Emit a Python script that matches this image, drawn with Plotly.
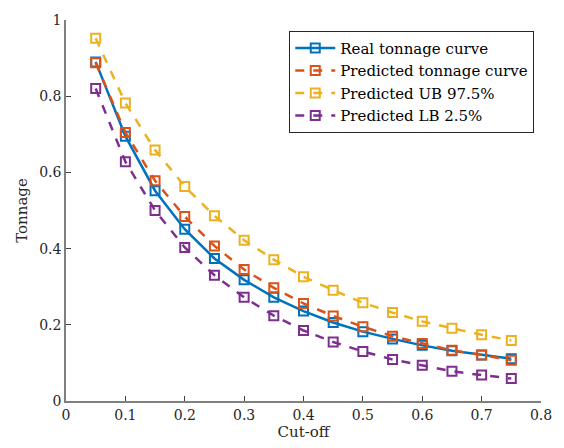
import plotly.graph_objects as go

cutoff = [0.05, 0.1, 0.15, 0.2, 0.25, 0.3, 0.35, 0.4, 0.45, 0.5, 0.55, 0.6, 0.65, 0.7, 0.75]
real = [0.890, 0.695, 0.552, 0.451, 0.374, 0.318, 0.272, 0.236, 0.206, 0.182, 0.163, 0.146, 0.132, 0.121, 0.111]
pred = [0.888, 0.705, 0.578, 0.484, 0.407, 0.345, 0.297, 0.256, 0.223, 0.195, 0.170, 0.151, 0.133, 0.121, 0.107]
ub = [0.952, 0.782, 0.659, 0.563, 0.486, 0.422, 0.371, 0.326, 0.291, 0.258, 0.232, 0.209, 0.191, 0.174, 0.159]
lb = [0.820, 0.628, 0.500, 0.403, 0.330, 0.272, 0.224, 0.185, 0.155, 0.130, 0.109, 0.094, 0.078, 0.068, 0.059]

names = ["Real tonnage curve", "Predicted tonnage curve", "Predicted UB 97.5%", "Predicted LB 2.5%"]
colors = ["#0072BD", "#D95319", "#EDB120", "#7E2F8E"]
dashes = ["solid", "dash", "dash", "dash"]
series = [real, pred, ub, lb]

font = "DejaVu Serif"
fig = go.Figure()
for name, ys, c, d in zip(names, series, colors, dashes):
    fig.add_trace(go.Scatter(
        x=cutoff, y=ys, name=name, mode="lines+markers",
        line=dict(color=c, width=2.5, dash=d),
        marker=dict(symbol="square-open", size=9, color=c, line=dict(width=2, color=c)),
    ))

fig.update_layout(
    width=564, height=448,
    margin=dict(l=66, r=12, t=19, b=46),
    plot_bgcolor="white", paper_bgcolor="white",
    font=dict(family=font, size=14, color="#262626"),
    showlegend=True,
    legend=dict(x=0.47, y=0.972, xanchor="left", yanchor="top",
                bgcolor="white", bordercolor="#262626", borderwidth=1,
                font=dict(family=font, size=15, color="#000000"),
                tracegroupgap=0, itemwidth=40),
)
fig.update_xaxes(
    range=[0, 0.8], tickvals=[0, 0.1, 0.2, 0.3, 0.4, 0.5, 0.6, 0.7, 0.8],
    ticktext=["0", "0.1", "0.2", "0.3", "0.4", "0.5", "0.6", "0.7", "0.8"],
    showgrid=False, zeroline=False, showline=True, linecolor="#808080", linewidth=1.5,
    ticks="inside", ticklen=5, tickcolor="#404040",
    title=dict(text="Cut-off", font=dict(family=font, size=15, color="#262626"), standoff=3),
    tickfont=dict(family=font, size=14, color="#262626"),
)
fig.update_yaxes(
    range=[0, 1], tickvals=[0, 0.2, 0.4, 0.6, 0.8, 1],
    ticktext=["0", "0.2", "0.4", "0.6", "0.8", "1"],
    showgrid=False, zeroline=False, showline=True, linecolor="#808080", linewidth=1.5,
    ticks="inside", ticklen=5, tickcolor="#404040",
    title=dict(text="Tonnage", font=dict(family=font, size=15, color="#262626"), standoff=8),
    tickfont=dict(family=font, size=14, color="#262626"),
)
fig.write_html("out.html")
